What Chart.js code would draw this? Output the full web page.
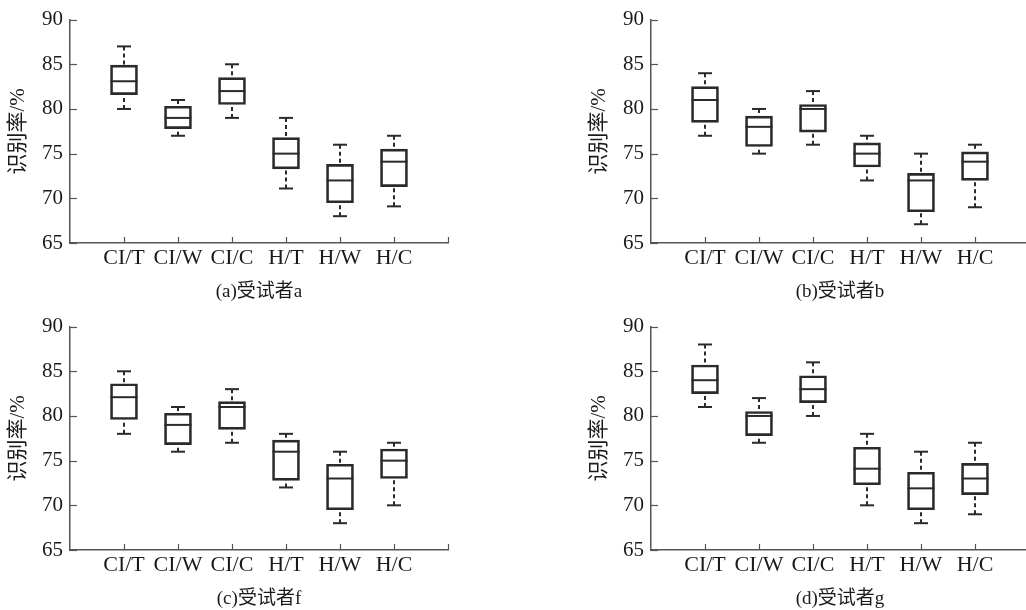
<!DOCTYPE html>
<html><head><meta charset="utf-8">
<script src="https://cdn.jsdelivr.net/npm/chart.js@4"></script>
<style>
html,body{margin:0;padding:0;background:#fff;overflow:hidden;}
#wrap{position:relative;width:1026px;height:610px;overflow:hidden;background:#fff;}
canvas{position:absolute;}
</style></head><body>
<div id="wrap">
<canvas id="ca" width="513" height="305" style="left:0;top:0"></canvas>
<canvas id="cb" width="513" height="305" style="left:581px;top:0"></canvas>
<canvas id="cc" width="513" height="305" style="left:0;top:307px"></canvas>
<canvas id="cd" width="513" height="305" style="left:581px;top:307px"></canvas>
</div>
<script>
// categories and tick labels
const categories = ['CI/T', 'CI/W', 'CI/C', 'H/T', 'H/W', 'H/C'];
const yTicks = [65, 70, 75, 80, 85, 90];
const yTitle = '识别率/%';

// (a) 受试者a
const aLow  = [80, 77, 79, 71.1, 68, 69.1];
const aQ1   = [81.6, 77.8, 80.5, 73.3, 69.5, 71.3];
const aMed  = [83.1, 79, 82, 75, 72, 74.1];
const aQ3   = [84.9, 80.3, 83.5, 76.8, 73.8, 75.5];
const aHigh = [87, 81, 85, 79, 76, 77];

// (b) 受试者b
const bLow  = [77, 75, 76, 72, 67.1, 69];
const bQ1   = [78.5, 75.8, 77.4, 73.5, 68.5, 72];
const bMed  = [81, 78, 80, 75, 72, 74.1];
const bQ3   = [82.5, 79.2, 80.5, 76.2, 72.8, 75.2];
const bHigh = [84, 80, 82, 77, 75, 76];

// (c) 受试者f
const cLow  = [78, 76, 77, 72, 68, 70];
const cQ1   = [79.6, 76.8, 78.5, 72.8, 69.5, 73];
const cMed  = [82.1, 79, 81, 76, 73, 75];
const cQ3   = [83.6, 80.3, 81.6, 77.3, 74.6, 76.3];
const cHigh = [85, 81, 83, 78, 76, 77];

// (d) 受试者g
const dLow  = [81, 77, 80, 70, 68, 69];
const dQ1   = [82.5, 77.8, 81.5, 72.3, 69.5, 71.2];
const dMed  = [84, 80, 83, 74.1, 71.9, 73];
const dQ3   = [85.7, 80.5, 84.5, 76.5, 73.7, 74.7];
const dHigh = [88, 82, 86, 78, 76, 77];

const captions = ['(a)受试者a', '(b)受试者b', '(c)受试者f', '(d)受试者g'];

const SERIF = '"Liberation Serif", "Times New Roman", serif';
const CAPF = '"Liberation Serif", "Noto Sans CJK SC", serif';
const TXT = '#1a1a1a';
const AXIS = '#555';
const BOX = '#2a2a2a';
const BOXW = 27;

const boxPlugin = {
  id: 'boxExtras',
  afterDatasetsDraw(chart, args, opts) {
    const ctx = chart.ctx, xs = chart.scales.x, ys = chart.scales.y, a = chart.chartArea;
    ctx.save();
    // inward axis ticks
    ctx.strokeStyle = AXIS; ctx.lineWidth = 1.2; ctx.setLineDash([]);
    ys.ticks.forEach((t, i) => {
      const y = Math.round(ys.getPixelForTick(i)) + 0.5;
      ctx.beginPath(); ctx.moveTo(a.left, y); ctx.lineTo(a.left + 7, y); ctx.stroke();
    });
    xs.ticks.forEach((t, i) => {
      if (i === 0) return;
      const x = Math.round(xs.getPixelForTick(i)) + 0.5;
      ctx.beginPath(); ctx.moveTo(x, a.bottom); ctx.lineTo(x, a.bottom - 6); ctx.stroke();
    });
    // whiskers and medians
    ctx.strokeStyle = BOX; ctx.lineWidth = 2;
    opts.med.forEach((m, i) => {
      const x = xs.getPixelForValue(i + 1);
      const yq1 = ys.getPixelForValue(opts.q1[i]);
      const yq3 = ys.getPixelForValue(opts.q3[i]);
      const ylo = ys.getPixelForValue(opts.low[i]);
      const yhi = ys.getPixelForValue(opts.high[i]);
      const ym = ys.getPixelForValue(m);
      ctx.setLineDash([]);
      ctx.beginPath(); ctx.moveTo(x - BOXW / 2, ym); ctx.lineTo(x + BOXW / 2, ym); ctx.stroke();
      ctx.beginPath(); ctx.moveTo(x - 7, yhi); ctx.lineTo(x + 7, yhi); ctx.stroke();
      ctx.beginPath(); ctx.moveTo(x - 7, ylo); ctx.lineTo(x + 7, ylo); ctx.stroke();
      ctx.setLineDash([4, 3]);
      ctx.beginPath(); ctx.moveTo(x, yhi); ctx.lineTo(x, yq3); ctx.stroke();
      ctx.beginPath(); ctx.moveTo(x, ylo); ctx.lineTo(x, yq1); ctx.stroke();
    });
    ctx.restore();
  }
};

function makePanel(id, low, q1, med, q3, high, caption) {
  const labels = [''].concat(categories, ['']);
  const boxes = [null].concat(q1.map((v, i) => [v, q3[i]]), [null]);
  new Chart(document.getElementById(id), {
    type: 'bar',
    data: {
      labels: labels,
      datasets: [{
        data: boxes,
        backgroundColor: 'rgba(255,255,255,0)',
        borderColor: BOX,
        borderWidth: 2,
        borderSkipped: false,
        barThickness: BOXW
      }]
    },
    options: {
      responsive: false,
      animation: false,
      devicePixelRatio: 1,
      layout: { padding: { top: 16, right: 65, left: 0, bottom: 0 } },
      plugins: {
        legend: { display: false },
        tooltip: { enabled: false },
        boxExtras: { low: low, q1: q1, med: med, q3: q3, high: high }
      },
      scales: {
        x: {
          offset: false,
          grid: { display: false, drawTicks: false },
          border: { display: true, color: AXIS, width: 1.5 },
          ticks: { font: { family: SERIF, size: 22 }, color: TXT, padding: 2, maxRotation: 0, autoSkip: false },
          title: { display: true, text: caption, font: { family: CAPF, size: 19 }, color: TXT, padding: { top: 0, bottom: 2 } },
          afterFit(s) { s.height = 62; }
        },
        y: {
          min: yTicks[0], max: yTicks[yTicks.length - 1],
          afterBuildTicks(s) { s.ticks = yTicks.map(v => ({ value: v })); },
          grid: { display: false, drawTicks: false },
          border: { display: true, color: AXIS, width: 1.5 },
          ticks: { font: { family: SERIF, size: 21 }, color: TXT, padding: 7 },
          title: { display: true, text: yTitle, font: { family: CAPF, size: 21 }, color: TXT, padding: { top: 6, bottom: 0 } },
          afterFit(s) { s.width = 70; }
        }
      }
    },
    plugins: [boxPlugin]
  });
}

makePanel('ca', aLow, aQ1, aMed, aQ3, aHigh, captions[0]);
makePanel('cb', bLow, bQ1, bMed, bQ3, bHigh, captions[1]);
makePanel('cc', cLow, cQ1, cMed, cQ3, cHigh, captions[2]);
makePanel('cd', dLow, dQ1, dMed, dQ3, dHigh, captions[3]);
</script>
</body></html>
